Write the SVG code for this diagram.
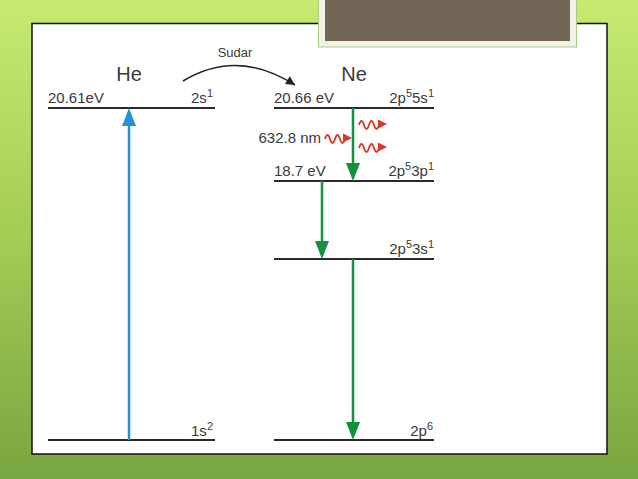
<svg xmlns="http://www.w3.org/2000/svg" width="638" height="479" viewBox="0 0 638 479">
  <defs>
    <linearGradient id="bg" x1="0" y1="0" x2="0" y2="1">
      <stop offset="0" stop-color="#c8ea70"/>
      <stop offset="0.5" stop-color="#a3cc55"/>
      <stop offset="1" stop-color="#78a640"/>
    </linearGradient>
    <marker id="ahBlack" viewBox="0 0 10 10" refX="10" refY="5" markerWidth="11" markerHeight="9" markerUnits="userSpaceOnUse" orient="auto">
      <path d="M0,0 L10,5 L0,10 Z" fill="#222"/>
    </marker>
  </defs>
  <style>
    text { font-family: "Liberation Sans", Arial, sans-serif; fill: #3a3a3a; }
    .lvl { stroke: #2a2a2a; stroke-width: 2; fill: none; }
    .lab { font-size: 15px; }
    .sup { font-size: 11px; }
    .big { font-size: 20px; }
    .green { stroke: #14913f; stroke-width: 2.5; fill: none; }
    .greenhead { fill: #14913f; }
    .blue { stroke: #2491d8; stroke-width: 2.5; fill: none; }
    .bluehead { fill: #2491d8; }
    .wave { stroke: #d8392b; stroke-width: 1.8; fill: none; }
    .wavehead { fill: #d8392b; }
  </style>

  <rect x="0" y="0" width="638" height="479" fill="url(#bg)"/>
  <g id="panel">
    <rect x="32" y="23.5" width="575" height="430.5" fill="#ffffff" stroke="#111" stroke-width="1.5"/>
  </g>
  <g id="title-box">
    <rect x="318.5" y="-2" width="258" height="49" fill="#f3f2e8" stroke="#a9c985" stroke-width="1"/>
    <rect x="325" y="-2" width="245" height="43" fill="#706656"/>
  </g>

  <g id="he-title"><text class="big" x="129" y="81" text-anchor="middle">He</text></g>
  <g id="ne-title"><text class="big" x="354" y="81" text-anchor="middle">Ne</text></g>
  <g id="sudar-label"><text x="235" y="57" text-anchor="middle" font-size="13">Sudar</text></g>

  <g id="he-2s">
    <line class="lvl" x1="48" y1="108" x2="215" y2="108"/>
    <text class="lab" x="48" y="103">20.61eV</text>
    <text class="lab" x="213" y="103" text-anchor="end">2s<tspan class="sup" dy="-6">1</tspan></text>
  </g>
  <g id="he-1s">
    <line class="lvl" x1="48" y1="440" x2="215" y2="440"/>
    <text class="lab" x="213" y="436" text-anchor="end">1s<tspan class="sup" dy="-6">2</tspan></text>
  </g>
  <g id="ne-5s">
    <line class="lvl" x1="274" y1="108" x2="434" y2="108"/>
    <text class="lab" x="274" y="103">20.66 eV</text>
    <text class="lab" x="434" y="103" text-anchor="end">2p<tspan class="sup" dy="-6">5</tspan><tspan dy="6">5s</tspan><tspan class="sup" dy="-6">1</tspan></text>
  </g>
  <g id="ne-3p">
    <line class="lvl" x1="274" y1="181" x2="434" y2="181"/>
    <text class="lab" x="274" y="176">18.7 eV</text>
    <text class="lab" x="434" y="176" text-anchor="end">2p<tspan class="sup" dy="-6">5</tspan><tspan dy="6">3p</tspan><tspan class="sup" dy="-6">1</tspan></text>
  </g>
  <g id="ne-3s">
    <line class="lvl" x1="274" y1="259" x2="434" y2="259"/>
    <text class="lab" x="434" y="254" text-anchor="end">2p<tspan class="sup" dy="-6">5</tspan><tspan dy="6">3s</tspan><tspan class="sup" dy="-6">1</tspan></text>
  </g>
  <g id="ne-2p6">
    <line class="lvl" x1="274" y1="440" x2="434" y2="440"/>
    <text class="lab" x="433" y="436" text-anchor="end">2p<tspan class="sup" dy="-6">6</tspan></text>
  </g>
  <g id="laser-label"><text class="lab" x="321" y="143" text-anchor="end">632.8 nm</text></g>

  <g id="connectors">
    <path d="M183,81 Q237,48 295,85" fill="none" stroke="#222" stroke-width="1.5" marker-end="url(#ahBlack)"/>
    <line class="blue" x1="129" y1="440" x2="129" y2="122"/>
    <path class="bluehead" d="M129,108 L122,126 L136,126 Z"/>
    <line class="green" x1="353" y1="108" x2="353" y2="168"/>
    <path class="greenhead" d="M353,181 L346,163 L360,163 Z"/>
    <line class="green" x1="322" y1="181" x2="322" y2="246"/>
    <path class="greenhead" d="M322,259 L315,241 L329,241 Z"/>
    <line class="green" x1="353" y1="259" x2="353" y2="427"/>
    <path class="greenhead" d="M353,440 L346,422 L360,422 Z"/>
    <path class="wave" d="M325,139 q2.5,-8 5,0 t5,0 t5,0 t5,0"/>
    <path class="wavehead" d="M352,138 L343,133.5 L343,142.5 Z"/>
    <path class="wave" d="M359,125 q2.5,-8 5,0 t5,0 t5,0 t5,0"/>
    <path class="wavehead" d="M387,124 L378,119.5 L378,128.5 Z"/>
    <path class="wave" d="M359,148 q2.5,-8 5,0 t5,0 t5,0 t5,0"/>
    <path class="wavehead" d="M387,147 L378,142.5 L378,151.5 Z"/>
  </g>
</svg>
